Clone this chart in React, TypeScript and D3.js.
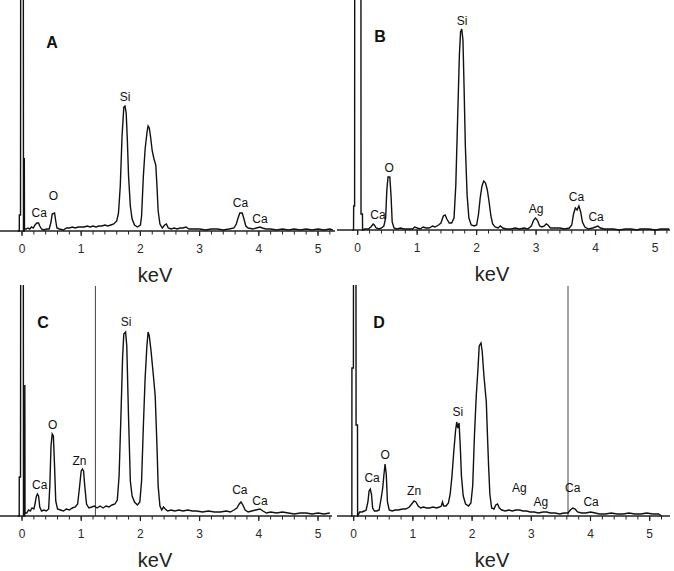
import React, { useEffect, useRef } from "react";
import * as d3 from "d3";

type Pt = [number, number];
type Tag = { text: string; keV: number; counts: number };

// energy axis (keV)
const keVTicks = [0, 1, 2, 3, 4, 5];
const keVTickLabels = ["0", "1", "2", "3", "4", "5"];
const minorStep = 0.2;
const minorEnd = 5.2;
const countMax = 231;

// spectra: [keV, counts]
const spectrumA: Pt[] = [
  [-0.07, 0], [-0.046, 0], [-0.045, 16], [-0.025, 16], [-0.022, 300], [0.022, 300], [0.025, 0], [0.037, 0],
  [0.039, 73], [0.042, 2], [0.07, 2], [0.1, 3], [0.13, 2], [0.16, 4], [0.19, 3], [0.22, 6], [0.25, 8], [0.28, 8],
  [0.3, 5], [0.33, 2], [0.37, 1], [0.42, 2], [0.46, 2], [0.49, 9], [0.51, 17], [0.55, 18], [0.57, 10], [0.59, 3],
  [0.63, 2], [0.7, 1], [0.75, 3], [0.8, 3], [0.85, 4], [0.9, 3], [0.95, 4], [1.0, 4], [1.05, 4], [1.1, 5],
  [1.15, 4], [1.2, 5], [1.25, 4], [1.3, 5], [1.35, 5], [1.4, 6], [1.45, 5], [1.5, 6], [1.55, 7], [1.6, 10],
  [1.63, 18], [1.66, 45], [1.69, 95], [1.72, 124], [1.74, 125], [1.76, 118], [1.78, 90], [1.8, 55], [1.83, 25],
  [1.86, 12], [1.9, 6], [1.95, 4], [2.0, 6], [2.02, 15], [2.05, 55], [2.08, 82], [2.11, 98], [2.13, 105],
  [2.15, 103], [2.17, 95], [2.2, 80], [2.23, 72], [2.26, 66], [2.28, 45], [2.3, 20], [2.33, 7], [2.37, 3],
  [2.41, 6], [2.44, 7], [2.47, 3], [2.52, 2], [2.57, 3], [2.62, 2], [2.67, 3], [2.72, 3], [2.77, 4], [2.82, 2],
  [2.9, 2], [3.0, 2], [3.1, 1], [3.2, 2], [3.3, 2], [3.4, 1], [3.5, 2], [3.58, 3], [3.62, 7], [3.65, 13],
  [3.68, 18], [3.72, 18], [3.75, 12], [3.78, 5], [3.82, 3], [3.9, 2], [3.96, 3], [4.02, 4], [4.06, 3], [4.12, 2],
  [4.2, 2], [4.3, 1], [4.4, 2], [4.5, 1], [4.6, 2], [4.7, 1], [4.8, 2], [4.9, 1], [5.0, 2], [5.1, 1], [5.2, 2],
  [5.25, 1],
];

const spectrumB: Pt[] = [
  [-0.09, 0], [-0.07, 0], [-0.068, 24], [-0.052, 24], [-0.05, 300], [0.054, 300], [0.056, 16], [0.08, 16],
  [0.082, 0], [0.12, 1], [0.18, 1], [0.22, 3], [0.26, 6], [0.28, 5], [0.31, 2], [0.36, 1], [0.4, 2], [0.44, 4],
  [0.47, 12], [0.49, 40], [0.51, 53], [0.54, 53], [0.56, 35], [0.58, 8], [0.61, 2], [0.66, 1], [0.72, 2],
  [0.78, 1], [0.85, 1], [0.92, 1], [0.96, 3], [1.0, 2], [1.05, 1], [1.1, 3], [1.15, 2], [1.2, 2], [1.26, 4],
  [1.3, 3], [1.36, 5], [1.4, 7], [1.44, 14], [1.47, 15], [1.5, 11], [1.54, 7], [1.58, 7], [1.62, 12],
  [1.65, 45], [1.68, 110], [1.71, 175], [1.73, 198], [1.75, 201], [1.77, 190], [1.79, 140], [1.81, 85],
  [1.84, 35], [1.87, 12], [1.91, 5], [1.96, 4], [2.0, 5], [2.03, 15], [2.06, 32], [2.09, 44], [2.12, 49],
  [2.15, 47], [2.18, 40], [2.21, 28], [2.24, 14], [2.27, 6], [2.31, 3], [2.36, 2], [2.4, 4], [2.44, 2],
  [2.5, 1], [2.58, 1], [2.65, 2], [2.72, 1], [2.8, 2], [2.86, 1], [2.92, 4], [2.96, 10], [2.99, 12], [3.02, 10],
  [3.06, 4], [3.1, 3], [3.14, 4], [3.17, 6], [3.2, 5], [3.24, 2], [3.3, 2], [3.4, 2], [3.48, 1], [3.56, 2],
  [3.6, 5], [3.63, 16], [3.66, 22], [3.69, 20], [3.72, 24], [3.75, 18], [3.78, 8], [3.82, 3], [3.88, 1],
  [3.95, 2], [4.0, 3], [4.04, 4], [4.08, 2], [4.15, 1], [4.3, 1], [4.4, 0], [4.5, 1], [4.6, 1], [4.7, 0],
  [4.75, 1], [4.9, 1], [5.0, 0], [5.1, 1], [5.24, 1],
];

const spectrumC: Pt[] = [
  [-0.07, 0], [-0.047, 0], [-0.046, 39], [-0.025, 39], [-0.022, 300], [0.022, 300], [0.025, 0], [0.046, 0],
  [0.048, 131], [0.051, 3], [0.08, 3], [0.11, 6], [0.14, 5], [0.17, 8], [0.2, 7], [0.22, 12], [0.24, 19],
  [0.26, 22], [0.28, 20], [0.3, 9], [0.33, 5], [0.37, 6], [0.41, 5], [0.45, 7], [0.47, 30], [0.49, 70],
  [0.51, 82], [0.53, 80], [0.55, 50], [0.57, 15], [0.6, 7], [0.65, 6], [0.7, 5], [0.75, 7], [0.8, 6], [0.85, 8],
  [0.9, 9], [0.94, 12], [0.97, 28], [1.0, 45], [1.02, 47], [1.04, 45], [1.06, 30], [1.09, 12], [1.13, 8],
  [1.18, 9], [1.22, 10], [1.27, 8], [1.32, 10], [1.37, 8], [1.42, 10], [1.47, 9], [1.52, 11], [1.57, 12],
  [1.61, 16], [1.64, 40], [1.67, 98], [1.7, 160], [1.72, 182], [1.75, 184], [1.77, 170], [1.8, 98], [1.83, 35],
  [1.86, 20], [1.9, 14], [1.95, 11], [1.99, 14], [2.02, 35], [2.05, 90], [2.08, 138], [2.11, 170], [2.13, 184],
  [2.15, 180], [2.18, 165], [2.22, 140], [2.25, 120], [2.28, 70], [2.3, 30], [2.33, 10], [2.36, 6], [2.39, 9],
  [2.42, 7], [2.46, 5], [2.52, 6], [2.58, 5], [2.65, 6], [2.72, 5], [2.8, 6], [2.88, 5], [2.95, 5], [3.05, 4],
  [3.15, 5], [3.25, 4], [3.35, 4], [3.45, 5], [3.52, 4], [3.58, 6], [3.63, 8], [3.67, 12], [3.7, 14],
  [3.73, 11], [3.77, 6], [3.82, 4], [3.88, 5], [3.95, 6], [4.02, 7], [4.07, 5], [4.13, 3], [4.2, 4], [4.3, 3],
  [4.4, 4], [4.5, 3], [4.6, 2], [4.7, 3], [4.8, 3], [4.9, 2], [5.0, 3], [5.1, 2], [5.2, 3],
];

const spectrumD: Pt[] = [
  [-0.05, 0], [-0.031, 0], [-0.03, 148], [-0.005, 148], [-0.003, 300], [0.038, 300], [0.04, 91], [0.064, 91],
  [0.066, 0], [0.085, 2], [0.1, 4], [0.14, 4], [0.18, 5], [0.21, 6], [0.24, 14], [0.26, 25], [0.28, 27],
  [0.3, 22], [0.32, 8], [0.35, 5], [0.39, 5], [0.43, 6], [0.47, 20], [0.49, 28], [0.51, 41], [0.53, 52],
  [0.55, 42], [0.57, 14], [0.6, 6], [0.65, 5], [0.7, 6], [0.76, 6], [0.82, 7], [0.88, 7], [0.94, 9], [0.98, 12],
  [1.02, 15], [1.05, 14], [1.09, 10], [1.13, 8], [1.18, 9], [1.23, 8], [1.28, 8], [1.34, 9], [1.4, 8],
  [1.45, 9], [1.48, 10], [1.5, 14], [1.52, 10], [1.56, 10], [1.6, 13], [1.63, 22], [1.66, 40], [1.69, 64],
  [1.72, 85], [1.74, 94], [1.76, 88], [1.78, 93], [1.8, 70], [1.82, 40], [1.85, 20], [1.89, 12], [1.94, 10],
  [1.98, 13], [2.01, 30], [2.04, 81], [2.07, 120], [2.1, 148], [2.12, 170], [2.15, 173], [2.17, 165],
  [2.2, 140], [2.24, 114], [2.26, 80], [2.28, 48], [2.3, 22], [2.33, 8], [2.37, 7], [2.4, 11], [2.43, 12],
  [2.46, 8], [2.5, 6], [2.56, 5], [2.62, 6], [2.68, 5], [2.74, 6], [2.8, 6], [2.86, 5], [2.92, 5], [2.98, 4],
  [3.05, 4], [3.12, 3], [3.2, 4], [3.26, 4], [3.32, 3], [3.4, 3], [3.48, 2], [3.55, 3], [3.62, 3], [3.66, 6],
  [3.7, 8], [3.74, 7], [3.78, 4], [3.85, 3], [3.92, 3], [4.0, 4], [4.08, 3], [4.15, 2], [4.25, 2], [4.35, 3],
  [4.45, 2], [4.55, 2], [4.65, 3], [4.75, 2], [4.85, 2], [4.95, 3], [5.05, 2], [5.15, 2], [5.2, 0],
];

// element labels
const tagsA: Tag[] = [
  { text: "Si", keV: 1.74, counts: 134 },
  { text: "O", keV: 0.53, counts: 35 },
  { text: "Ca", keV: 0.29, counts: 18 },
  { text: "Ca", keV: 3.69, counts: 28 },
  { text: "Ca", keV: 4.02, counts: 12 },
];
const tagsB: Tag[] = [
  { text: "Si", keV: 1.756, counts: 209 },
  { text: "O", keV: 0.53, counts: 62 },
  { text: "Ca", keV: 0.34, counts: 15 },
  { text: "Ag", keV: 3.0, counts: 21 },
  { text: "Ca", keV: 3.68, counts: 33 },
  { text: "Ca", keV: 4.01, counts: 13 },
];
const tagsC: Tag[] = [
  { text: "Si", keV: 1.76, counts: 194 },
  { text: "O", keV: 0.52, counts: 91 },
  { text: "Zn", keV: 0.97, counts: 55 },
  { text: "Ca", keV: 0.3, counts: 31 },
  { text: "Ca", keV: 3.68, counts: 26 },
  { text: "Ca", keV: 4.02, counts: 15 },
];
const tagsD: Tag[] = [
  { text: "Si", keV: 1.757, counts: 104 },
  { text: "O", keV: 0.53, counts: 61 },
  { text: "Ca", keV: 0.31, counts: 38 },
  { text: "Zn", keV: 1.02, counts: 25 },
  { text: "Ag", keV: 2.8, counts: 28 },
  { text: "Ag", keV: 3.16, counts: 14 },
  { text: "Ca", keV: 3.7, counts: 28 },
  { text: "Ca", keV: 4.01, counts: 14 },
];

const markerC = 1.24;
const markerD = 3.62;

const font = "'Liberation Sans', Arial, sans-serif";

const panels = [
  { id: "A", left: 0, top: 0, zeroX: 22, fiveX: 318, baseline: 231, axisEnd: 335, spectrum: spectrumA, tags: tagsA, marker: null, lx: 52, ly: 42 },
  { id: "B", left: 337, top: 0, zeroX: 357.7, fiveX: 655, baseline: 230, axisEnd: 670, spectrum: spectrumB, tags: tagsB, marker: null, lx: 380, ly: 36 },
  { id: "C", left: 0, top: 285, zeroX: 22, fiveX: 318, baseline: 516, axisEnd: 332, spectrum: spectrumC, tags: tagsC, marker: markerC, lx: 43, ly: 322 },
  { id: "D", left: 337, top: 285, zeroX: 353.7, fiveX: 649.7, baseline: 516, axisEnd: 670, spectrum: spectrumD, tags: tagsD, marker: markerD, lx: 379, ly: 322 },
];

const Panel = ({ cfg }: { cfg: any }) => {
  const ref = useRef<SVGGElement>(null);

  useEffect(() => {
    const g = d3.select(ref.current);
    g.selectAll("*").remove();

    const x = d3.scaleLinear().domain([0, 5]).range([cfg.zeroX, cfg.fiveX]);
    const y = d3.scaleLinear().domain([0, countMax]).range([cfg.baseline, cfg.baseline - countMax]);

    const clipId = "clip-" + cfg.id;
    g.append("clipPath").attr("id", clipId)
      .append("rect")
      .attr("x", cfg.left).attr("y", cfg.top)
      .attr("width", 337).attr("height", cfg.baseline - cfg.top + 1);

    // marker line
    if (cfg.marker !== null) {
      g.append("line")
        .attr("x1", x(cfg.marker)).attr("x2", x(cfg.marker))
        .attr("y1", cfg.top + 1).attr("y2", cfg.baseline)
        .attr("stroke", "#444").attr("stroke-width", 1);
    }

    // axis
    g.append("line")
      .attr("x1", cfg.left).attr("x2", cfg.axisEnd)
      .attr("y1", cfg.baseline).attr("y2", cfg.baseline)
      .attr("stroke", "#222").attr("stroke-width", 1.3);

    const minor = d3.range(0, minorEnd + 0.001, minorStep);
    g.selectAll(".minor").data(minor).join("line")
      .attr("class", "minor")
      .attr("x1", d => x(d)).attr("x2", d => x(d))
      .attr("y1", cfg.baseline).attr("y2", cfg.baseline + 3.5)
      .attr("stroke", "#222").attr("stroke-width", 1);

    g.selectAll(".major").data(keVTicks).join("line")
      .attr("class", "major")
      .attr("x1", d => x(d)).attr("x2", d => x(d))
      .attr("y1", cfg.baseline).attr("y2", cfg.baseline + 5)
      .attr("stroke", "#222").attr("stroke-width", 1.2);

    g.selectAll(".tlabel").data(keVTicks).join("text")
      .attr("class", "tlabel")
      .attr("x", d => x(d)).attr("y", cfg.baseline + 22)
      .attr("text-anchor", "middle")
      .attr("font-family", font).attr("font-size", 12)
      .attr("fill", "#2a2a2a")
      .text((d, i) => keVTickLabels[i]);

    g.append("text")
      .attr("x", cfg.left + 155).attr("y", cfg.baseline + 51)
      .attr("text-anchor", "middle")
      .attr("font-family", font).attr("font-size", 20)
      .attr("fill", "#222")
      .text("keV");

    // spectrum
    const line = d3.line<Pt>().x(d => x(d[0])).y(d => y(d[1]));
    g.append("path")
      .attr("clip-path", `url(#${clipId})`)
      .attr("d", line(cfg.spectrum))
      .attr("fill", "none")
      .attr("stroke", "#111")
      .attr("stroke-width", 1.4)
      .attr("stroke-linejoin", "miter");

    // element labels
    g.selectAll(".tag").data(cfg.tags as Tag[]).join("text")
      .attr("class", "tag")
      .attr("x", d => x(d.keV)).attr("y", d => y(d.counts))
      .attr("dy", "0.36em")
      .attr("text-anchor", "middle")
      .attr("font-family", font).attr("font-size", 12)
      .attr("fill", "#111")
      .text(d => d.text);

    // panel letter
    g.append("text")
      .attr("x", cfg.lx).attr("y", cfg.ly)
      .attr("dy", "0.36em")
      .attr("text-anchor", "middle")
      .attr("font-family", font).attr("font-size", 16).attr("font-weight", "bold")
      .attr("fill", "#111")
      .text(cfg.id);
  }, [cfg]);

  return <g ref={ref} />;
};

export default function App() {
  return (
    <svg width={674} height={571} style={{ position: "absolute", left: 0, top: 0, background: "#fff" }}>
      <rect width={674} height={571} fill="#fff" />
      {panels.map(p => <Panel key={p.id} cfg={p} />)}
    </svg>
  );
}
